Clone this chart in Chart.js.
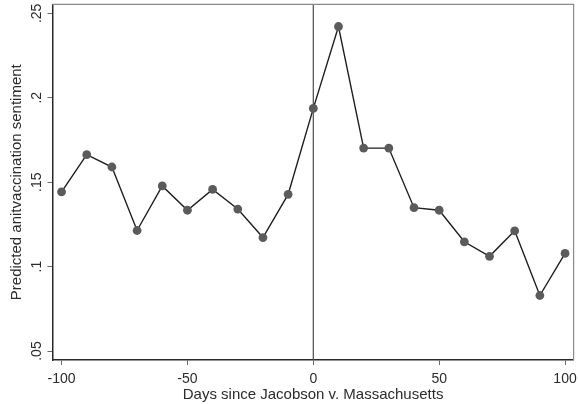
<!DOCTYPE html>
<html>
<head>
<meta charset="utf-8">
<script src="https://cdn.jsdelivr.net/npm/chart.js@4/dist/chart.umd.min.js"></script>
<style>
html,body{margin:0;padding:0;background:#fff;}
canvas{display:block;}
</style>
</head>
<body>
<canvas id="c" width="578" height="404"></canvas>
<script>
const days = [-100,-90,-80,-70,-60,-50,-40,-30,-20,-10,0,10,20,30,40,50,60,70,80,90,100];
const sentiment = [0.1443,0.1663,0.1590,0.1214,0.1478,0.1334,0.1457,0.1341,0.1172,0.1428,0.1937,0.2422,0.1702,0.1702,0.1349,0.1334,0.1147,0.1061,0.1212,0.0829,0.1078];
const xTickValues = [-100,-50,0,50,100];
const xTickLabels = ['-100','-50','0','50','100'];
const yTickValues = [0.05,0.10,0.15,0.20,0.25];
const yTickLabels = ['.05','.1','.15','.2','.25'];
const xTitle = 'Days since Jacobson v. Massachusetts';
const yTitle = 'Predicted anitvaccination sentiment';

const FONT = '"Liberation Sans", Arial, sans-serif';

const noPad = s => { s.paddingLeft = 0; s.paddingRight = 0; s.paddingTop = 0; s.paddingBottom = 0; };

const frame = {
  id: 'frame',
  beforeDatasetsDraw(chart) {
    const {ctx, chartArea: a, scales} = chart;
    ctx.save();
    const x0 = scales.x.getPixelForValue(0);
    ctx.strokeStyle = '#4a4a4a';
    ctx.lineWidth = 1.2;
    ctx.beginPath();
    ctx.moveTo(x0, a.top);
    ctx.lineTo(x0, a.bottom);
    ctx.stroke();
    ctx.strokeStyle = '#8a8a8a';
    ctx.lineWidth = 1.2;
    ctx.beginPath();
    ctx.moveTo(a.left, a.top);
    ctx.lineTo(a.right, a.top);
    ctx.lineTo(a.right, a.bottom);
    ctx.stroke();
    ctx.restore();
  }
};

new Chart(document.getElementById('c'), {
  type: 'line',
  data: {
    datasets: [{
      data: days.map((d, i) => ({x: d, y: sentiment[i]})),
      borderColor: '#1e1e1e',
      borderWidth: 1.4,
      tension: 0,
      pointRadius: 4.4,
      pointHoverRadius: 4.4,
      pointBackgroundColor: '#5b5b5b',
      pointBorderWidth: 0,
      fill: false
    }]
  },
  options: {
    responsive: false,
    devicePixelRatio: 1,
    animation: false,
    events: [],
    layout: {padding: {top: 2, right: 4, left: 0, bottom: 0}},
    plugins: {legend: {display: false}, tooltip: {enabled: false}},
    scales: {
      x: {
        type: 'linear',
        min: -103.6,
        max: 103.4,
        afterBuildTicks: s => { s.ticks = xTickValues.map(v => ({value: v})); },
        afterFit: s => { s.height = 44; noPad(s); },
        grid: {drawOnChartArea: false, drawTicks: true, tickLength: 5, tickColor: '#6a6a6a', tickWidth: 1},
        border: {display: true, color: '#2a2a2a', width: 1.5},
        ticks: {
          padding: 6,
          color: '#2b2b2b',
          font: {family: FONT, size: 14},
          maxRotation: 0, minRotation: 0,
          callback: v => { const i = xTickValues.indexOf(v); return i >= 0 ? xTickLabels[i] : ''; }
        },
        title: {display: true, text: xTitle, color: '#2b2b2b', font: {family: FONT, size: 15}, padding: {top: 0, bottom: 0}}
      },
      y: {
        type: 'linear',
        min: 0.0447,
        max: 0.2553,
        afterBuildTicks: s => { s.ticks = yTickValues.map(v => ({value: v})); },
        afterFit: s => { s.width = 52.5; noPad(s); },
        grid: {drawOnChartArea: false, drawTicks: true, tickLength: 5, tickColor: '#6a6a6a', tickWidth: 1},
        border: {display: true, color: '#2a2a2a', width: 1.5},
        ticks: {
          padding: 1,
          color: '#2b2b2b',
          font: {family: FONT, size: 14},
          minRotation: 90, maxRotation: 90,
          crossAlign: 'center',
          callback: v => { const i = yTickValues.findIndex(t => Math.abs(t - v) < 1e-9); return i >= 0 ? yTickLabels[i] : ''; }
        },
        title: {display: true, text: yTitle, color: '#2b2b2b', font: {family: FONT, size: 15}, padding: {top: 7.5, bottom: 0}}
      }
    }
  },
  plugins: [frame]
});
</script>
</body>
</html>
